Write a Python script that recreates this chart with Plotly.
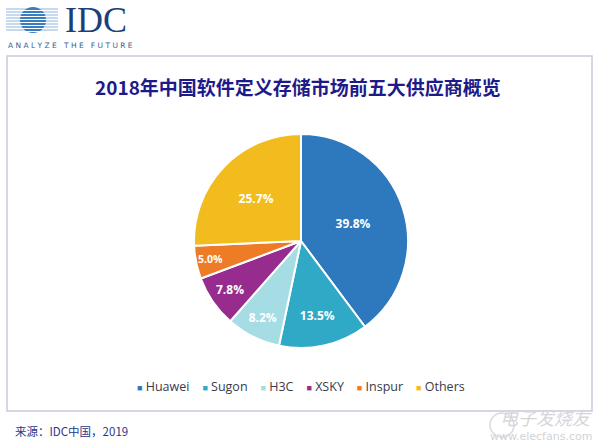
import plotly.graph_objects as go

W, H = 600, 447
labels = ["Huawei", "Sugon", "H3C", "XSKY", "Inspur", "Others"]
shares = [39.8, 13.5, 8.2, 7.8, 5.0, 25.7]
colors = ["#2E78BE", "#30A9C6", "#A6DCE4", "#972C8E", "#EE7B25", "#F2BB1E"]
title_text = "2018年中国软件定义存储市场前五大供应商概览"
source_text = "来源：IDC中国，2019"

def px(x):
    return x / W

def py(y):
    return 1 - y / H

cx, cy, r = 301, 241, 107

fig = go.Figure(go.Pie(
    labels=labels, values=shares, sort=False, direction="clockwise", rotation=0,
    marker=dict(colors=colors, line=dict(color="white", width=2)),
    texttemplate="<b>%{value:.1f}%</b>", textposition="inside", insidetextorientation="horizontal",
    textfont=dict(color="white", size=12, family="Open Sans"),
    hoverinfo="label+percent",
    domain=dict(x=[px(cx - r), px(cx + r)], y=[py(cy + r), py(cy - r)]),
    showlegend=False,
))

shapes = [
    dict(type="rect", xref="paper", yref="paper", x0=px(7), x1=px(592), y0=py(411), y1=py(56),
         line=dict(color="#C9C9DD", width=1.5), fillcolor="rgba(0,0,0,0)", layer="below"),
    # watermark icon
    dict(type="circle", xref="paper", yref="paper", x0=px(490), x1=px(514), y0=py(437), y1=py(413),
         line=dict(color="#DADADE", width=1.5), fillcolor="rgba(0,0,0,0)"),
]
# IDC logo globe
for yy in range(9, 33, 3):
    shapes.append(dict(type="line", xref="paper", yref="paper",
                       x0=px(6), x1=px(58), y0=py(yy), y1=py(yy),
                       line=dict(color="#8FB3D9", width=1), layer="below"))
shapes.append(dict(type="circle", xref="paper", yref="paper",
                   x0=px(20), x1=px(46), y0=py(33), y1=py(7),
                   fillcolor="#3A7CC0", line=dict(width=0)))
for yy in range(9, 33, 3):
    shapes.append(dict(type="line", xref="paper", yref="paper",
                       x0=px(20), x1=px(46), y0=py(yy + 1.5), y1=py(yy + 1.5),
                       line=dict(color="white", width=1)))

# legend row built from the labels / colours
legend_parts = []
for lab, col in zip(labels, colors):
    legend_parts.append("<span style='color:%s;font-size:9px'>■</span> %s" % (col, lab))
legend_text = "&nbsp;&nbsp;&nbsp;&nbsp;".join(legend_parts)

annotations = [
    dict(text="<b>" + title_text + "</b>", xref="paper", yref="paper", x=px(298), y=py(86),
         showarrow=False, font=dict(size=19, color="#1E1A8A", family="Noto Sans CJK SC"),
         xanchor="center", yanchor="middle"),
    dict(text=legend_text, xref="paper", yref="paper", x=px(301), y=py(386),
         showarrow=False, font=dict(size=12.5, color="#3A3A4A", family="Open Sans"),
         xanchor="center", yanchor="middle"),
    dict(text=source_text, xref="paper", yref="paper", x=px(13), y=py(431),
         showarrow=False, font=dict(size=11.5, color="#1F3A8A", family="Noto Sans CJK SC"),
         xanchor="left", yanchor="middle"),
    dict(text="IDC", xref="paper", yref="paper", x=px(63), y=py(20),
         showarrow=False, font=dict(size=36, color="#1D3F78", family="Liberation Serif"),
         xanchor="left", yanchor="middle"),
    dict(text="A N A L Y Z E   T H E   F U T U R E", xref="paper", yref="paper", x=px(6), y=py(45.5),
         showarrow=False, font=dict(size=7.5, color="#3B5E8E", family="DejaVu Sans"),
         xanchor="left", yanchor="middle"),
    dict(text="<i>电子发烧友</i>", xref="paper", yref="paper", x=px(594), y=py(417),
         showarrow=False, font=dict(size=18, color="#D6D6DA", family="Noto Sans CJK SC"),
         xanchor="right", yanchor="middle"),
    dict(text="www.elecfans.com", xref="paper", yref="paper", x=px(594), y=py(436),
         showarrow=False, font=dict(size=11, color="#D2D2D8", family="DejaVu Sans"),
         xanchor="right", yanchor="middle"),
]

fig.update_layout(
    width=W, height=H, margin=dict(l=0, r=0, t=0, b=0),
    paper_bgcolor="white", plot_bgcolor="white",
    shapes=shapes, annotations=annotations,
    showlegend=False,
)

fig.write_html("out.html", config={"displayModeBar": False},
               post_script="document.body.style.margin='0';document.body.style.overflow='hidden';")
